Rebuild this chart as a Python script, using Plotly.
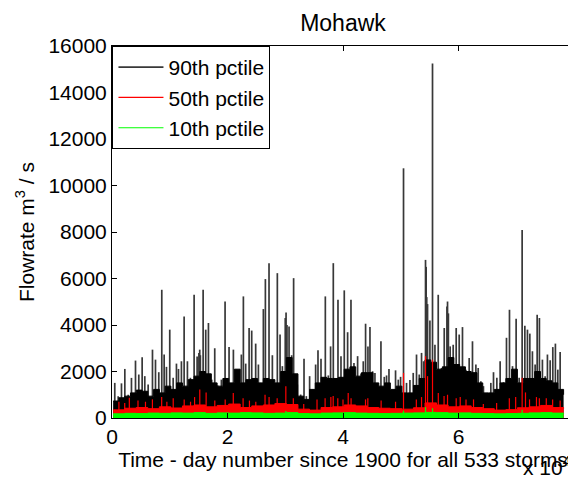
import plotly.graph_objects as go

# ---------------- data ----------------
# 90th percentile: individual storm peaks (day number, m3/s)
p90_spike_days = [480, 1070, 1640, 2220, 2800, 3370, 4070, 4640, 5220, 5680, 6260, 7010, 7530, 8100,
                  8620, 9030, 9430, 10000, 10590, 11160, 11510, 12020, 12490, 13060, 13580, 14220,
                  14740, 15050, 15190, 15300, 15780, 16230, 16700, 17270, 17790, 18300, 18940, 19580,
                  20270, 21020, 21540, 22000, 22400, 22750, 23150, 23740, 24190, 24880, 25350,
                  25690, 26210, 26560, 27190, 27770, 28230, 28630, 29100, 29500, 30000, 30140, 30300,
                  30660, 31110, 31450, 32090, 32670, 33250, 33650, 34220, 34810, 35260, 35670, 36190,
                  36940, 37460, 37850, 38320, 39130, 39650,
                  40220, 40800, 41380, 41900, 42530, 43110, 43510, 43910, 44320, 44670, 45120,
                  45530, 45990, 46570, 47150, 47540, 47960, 48410, 49100, 49570, 49970, 50480,
                  51000, 51590, 52160, 52730, 53200, 53600, 53950, 54290, 54400, 54500, 54640,
                  55050, 55500, 55920, 56490, 57060, 57530, 58000, 58100, 58250, 58560, 59080, 59600,
                  60120, 60690, 61280, 61850, 62420, 63010, 63410, 63870, 64320, 65020, 65600,
                  66060, 66640, 67210, 67790, 68310, 68830, 69350, 69980, 70500, 71020, 71490,
                  71940, 72350, 72800, 73270, 73620, 74010, 74530, 75000, 75400, 75870, 76330,
                  76780, 77200, 77600, 77940]
p90_spike_vals = [1510, 935, 1490, 2110, 1000, 1725, 2470, 1870, 2610, 1800, 1440, 2940, 2510, 1970,
                  5515, 2730, 2200, 3800, 1730, 2340, 2110, 2440, 4370, 2440, 1730, 5300,
                  2650, 2800, 2940, 2700, 5515, 3800, 4085, 1650, 3000, 1400, 1650, 5010,
                  3055, 2940, 2080, 1730, 2730, 5230, 2340, 3870, 3760, 3200, 2300,
                  1510, 4685, 5975, 6660, 2700, 1370, 6230, 3590, 2230, 4300, 4540, 4000,
                  3940, 2700, 6015, 1440, 1010, 2550, 940, 1800, 1230, 2300, 2910, 2550,
                  5230, 1830, 3080, 6660, 5090, 2660,
                  5490, 3690, 5090, 2370, 2660, 1910, 2440, 4055, 3080, 3910, 2010,
                  1940, 1370, 3300, 1770, 1830, 2110, 1150, 2050, 1650, 1770, 10740,
                  1510, 1630, 1940, 2730, 1870, 2800, 2440, 6800, 6500, 5200, 4900,
                  4190, 15245, 3150, 5300, 2150, 3870, 4800, 5010, 4500, 3080, 3150, 3870,
                  3590, 3910, 2080, 2580, 3300, 2300, 2150, 1580, 1370, 1080, 1510,
                  1970, 1730, 2440, 1540, 3450, 4655, 2230, 4270, 1730, 8090, 3970,
                  3800, 3630, 2870, 2300, 4440, 4300, 2510, 1800, 2730, 2480, 3050,
                  3200, 2080, 2840, 1080]

# 90th percentile: dense body of the record, sampled every 1000 days
p90_body_days = list(range(200, 79000, 1000))
p90_body_vals = [730, 870, 940, 1080, 1200, 1150, 940, 1230, 1080, 1370,
                 1230, 1510, 1370, 1650, 1800, 2000, 1900, 1510, 1370, 1700,
                 1510, 2100, 1510, 1650, 1700, 1510, 1700, 1650, 1510, 2000,
                 2600, 1900, 940, 800, 1230, 1510, 1750, 1700, 1700, 1750,
                 2100, 2200, 1800, 1950, 1950, 1510, 1370, 1510, 1230, 1370,
                 1080, 1080, 1400, 1700, 2500, 2400, 2100, 2200, 2600, 2300,
                 2200, 2000, 1950, 1510, 1080, 1080, 1230, 1510, 1700, 2100,
                 1510, 1700, 1700, 2000, 1700, 1600, 1510, 1230, 1000]

# 50th percentile
p50_body_days = list(range(200, 79000, 2000))
p50_body_vals = [350, 420, 450, 400, 480, 430, 520, 560, 480, 540,
                 600, 450, 520, 560, 620, 580, 380, 340, 450, 480,
                 560, 520, 450, 420, 400, 380, 440, 650, 560, 480,
                 520, 450, 400, 340, 360, 440, 480, 540, 450, 400]
p50_spike_days = [1200, 2200, 3000, 4500, 5800, 7000, 8600, 9500, 10600, 12500, 13600, 14300,
                  15200, 16300, 17800, 19600, 21000, 22700, 23800, 24900, 26500, 27200, 28600,
                  30100, 31400, 33200, 35500, 36900, 37900, 38300, 39100, 40000, 40900, 41400,
                  43900, 44300, 46600, 49100, 50480, 52700, 53600, 54290, 54640, 55500, 56500,
                  57500, 58100, 59600, 60300, 61300, 62600, 64300, 66600, 68800, 69900, 71020,
                  71600, 72300, 73500, 74000, 75200, 76300, 77600]
p50_spike_vals = [700, 650, 870, 750, 700, 800, 900, 700, 850, 800, 700, 900,
                  1230, 1100, 750, 800, 1080, 850, 750, 700, 1000, 900, 850,
                  1370, 850, 600, 800, 850, 900, 950, 850, 800, 1080, 850,
                  800, 850, 750, 700, 1940, 800, 900, 2660, 1800, 2510, 1080,
                  950, 1000, 850, 900, 800, 800, 600, 650, 850, 900, 1730,
                  1100, 800, 900, 850, 850, 800, 750]

# 10th percentile
p10_body_days = list(range(200, 79000, 2000))
p10_body_vals = [180, 200, 190, 210, 200, 220, 210, 230, 200, 220,
                 210, 230, 220, 200, 210, 230, 190, 180, 210, 220,
                 230, 210, 200, 190, 200, 210, 220, 240, 230, 210,
                 220, 200, 190, 180, 190, 200, 220, 230, 210, 190]
p10_spike_days = [30100, 50480, 54290, 55500, 71020]
p10_spike_vals = [300, 320, 470, 420, 350]

series_names = ["90th pctile", "50th pctile", "10th pctile"]
series_colors = ["#000000", "#ff0000", "#00ff00"]
spike_colors = ["#383838", "#ff0000", "#00ff00"]
x_tick_vals = [0, 20000, 40000, 60000, 80000]
x_tick_text = ["0", "2", "4", "6", "8"]


def spike_xy(days, vals):
    xs, ys = [], []
    for d, v in zip(days, vals):
        xs += [d, d, None]
        ys += [0, v, None]
    return xs, ys


FONT = "Liberation Sans, Arial, sans-serif"
FS = 21
fig = go.Figure()

groups = [
    (p90_body_days, p90_body_vals, p90_spike_days, p90_spike_vals),
    (p50_body_days, p50_body_vals, p50_spike_days, p50_spike_vals),
    (p10_body_days, p10_body_vals, p10_spike_days, p10_spike_vals),
]
for i, (bd, bv, sd, sv) in enumerate(groups):
    name, col = series_names[i], series_colors[i]
    # storm peaks first, the dense body drawn over their lower part
    sx, sy = spike_xy(sd, sv)
    fig.add_trace(go.Scatter(x=sx, y=sy, mode="lines", name=name, legendgroup=name,
                             line=dict(color=spike_colors[i], width=1.7 if i == 0 else 1.2)))
    fig.add_trace(go.Scatter(x=bd, y=bv, mode="lines", fill="tozeroy", fillcolor=col,
                             line=dict(color=col, width=1, shape="hv"), showlegend=False,
                             legendgroup=name, hoverinfo="skip"))

# The page body adds an 8 px offset, so the figure is 8 px smaller each way.
fig.update_layout(
    width=568, height=470,
    margin=dict(l=103.5, r=2, t=37.5, b=59.5),
    paper_bgcolor="white", plot_bgcolor="white",
    font=dict(family=FONT, size=FS, color="black"),
    title=dict(text="Mohawk", x=0.5, xref="paper", xanchor="center",
               y=0.968, yref="container", yanchor="middle",
               font=dict(family=FONT, size=23, color="black")),
    showlegend=True,
    legend=dict(x=0.001, y=1.0, xanchor="left", yanchor="top", bgcolor="white",
                bordercolor="black", borderwidth=1, itemwidth=45,
                font=dict(family=FONT, size=FS, color="black"),
                traceorder="normal"),
    xaxis=dict(range=[0, 80000], tickvals=x_tick_vals, ticktext=x_tick_text,
               ticks="inside", ticklen=5, tickcolor="black", showline=True,
               linecolor="black", linewidth=1, mirror="ticks", showgrid=False,
               zeroline=False, tickfont=dict(family=FONT, size=FS, color="black"),
               title=dict(text="Time - day number since 1900 for all 533 storms",
                          standoff=0, font=dict(family=FONT, size=FS, color="black"))),
    yaxis=dict(range=[0, 16000], dtick=2000, tickformat="d", ticks="inside", ticklen=5,
               tickcolor="black", showline=True, linecolor="black", linewidth=1,
               mirror="ticks", showgrid=False, zeroline=False,
               tickfont=dict(family=FONT, size=FS, color="black"),
               title=dict(text="Flowrate m<sup>3</sup> / s", standoff=8,
                          font=dict(family=FONT, size=FS, color="black"))),
)
fig.add_annotation(text="x 10<sup>4</sup>", xref="paper", yref="paper",
                   x=0.998, y=-0.130, xanchor="right", yanchor="middle",
                   showarrow=False, font=dict(family=FONT, size=FS, color="black"))

fig.write_html("out.html")
